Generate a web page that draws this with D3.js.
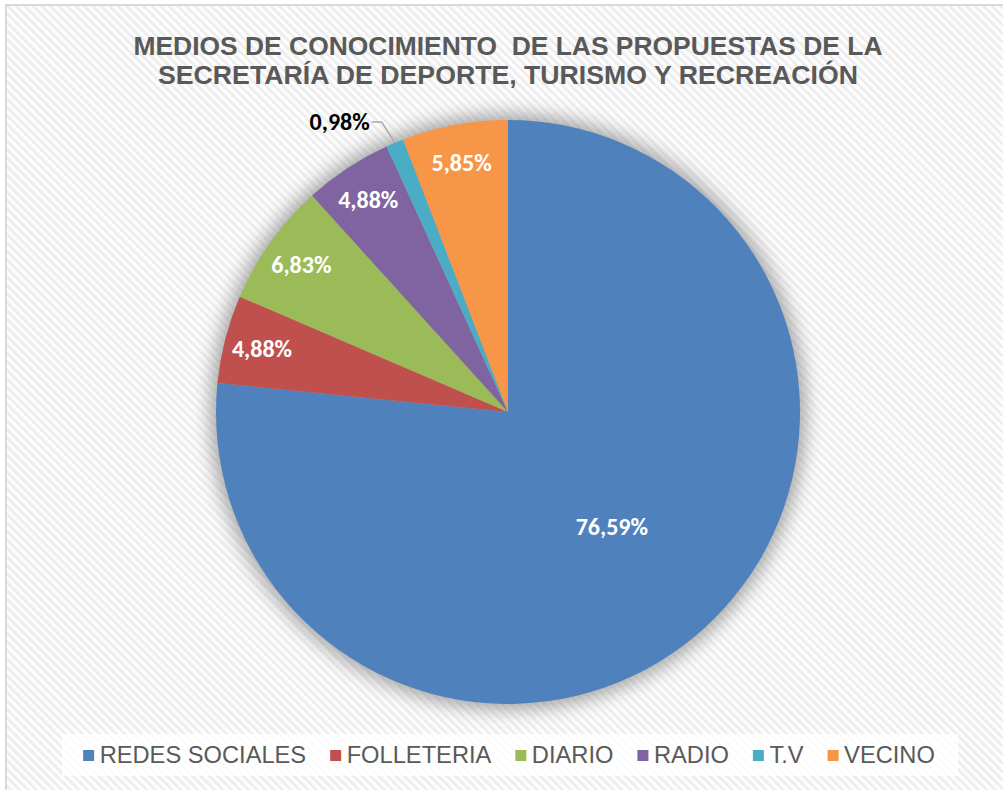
<!DOCTYPE html>
<html>
<head>
<meta charset="utf-8">
<script src="https://d3js.org/d3.v7.min.js"></script>
<style>
  body { margin: 0; background: #fff; }
  svg { display: block; }
</style>
</head>
<body>
<script>
/* chart data */
var titleLines = ["MEDIOS DE CONOCIMIENTO  DE LAS PROPUESTAS DE LA", "SECRETARÍA DE DEPORTE, TURISMO Y RECREACIÓN"];
var categories = ["REDES SOCIALES", "FOLLETERIA", "DIARIO", "RADIO", "T.V", "VECINO"];
var values = [76.59, 4.88, 6.83, 4.88, 0.98, 5.85];
var colors = ["#4F81BD", "#C0504D", "#9BBB59", "#8064A2", "#4BACC6", "#F79646"];

var width = 1003, height = 790;
var cx = 508, cy = 412, radius = 292;
var narrow = "'Liberation Sans Narrow', 'Arial Narrow', 'Liberation Sans', Arial, sans-serif";
var labelFont = "Carlito, Calibri, Lato, 'Open Sans', sans-serif";

var svg = d3.select("body").append("svg")
  .attr("width", width).attr("height", height);

var defs = svg.append("defs");
var pat = defs.append("pattern")
  .attr("id", "hatch").attr("patternUnits", "userSpaceOnUse")
  .attr("width", 6).attr("height", 6)
  .attr("patternTransform", "rotate(-45)");
pat.append("rect").attr("width", 6).attr("height", 6).attr("fill", "#fdfdfd");
pat.append("rect").attr("width", 2.5).attr("height", 6).attr("fill", "#ececec");

var glow = defs.append("filter").attr("id", "glow")
  .attr("x", "-20%").attr("y", "-20%").attr("width", "140%").attr("height", "140%");
glow.append("feGaussianBlur").attr("stdDeviation", 9);

/* background + frame */
svg.append("rect").attr("width", width).attr("height", height).attr("fill", "#fff");
svg.append("rect").attr("x", 6).attr("y", 5).attr("width", width).attr("height", height)
  .attr("fill", "url(#hatch)").attr("stroke", "#d9d9d9").attr("stroke-width", 2);

/* title */
var lineLen = [749, 700];
svg.append("text")
  .attr("text-anchor", "middle")
  .style("white-space", "pre")
  .style("font-family", narrow).style("font-weight", "bold")
  .style("font-size", "26px").attr("fill", "#595959")
  .selectAll("tspan").data(titleLines).enter().append("tspan")
  .attr("x", cx).attr("y", function(d, i){ return 55 + i * 29; })
  .attr("textLength", function(d, i){ return lineLen[i]; })
  .attr("lengthAdjust", "spacingAndGlyphs")
  .text(function(d){ return d; });

/* pie */
var pie = d3.pie().sort(null).value(function(d){ return d.v; });
var data = categories.map(function(c, i){ return {name: c, v: values[i], color: colors[i]}; });
var arcs = pie(data);
var arc = d3.arc().innerRadius(0).outerRadius(radius);

var g = svg.append("g").attr("transform", "translate(" + cx + "," + cy + ")");

g.append("circle").attr("r", radius + 6).attr("fill", "#8a8a8a")
  .attr("opacity", 0.75).attr("filter", "url(#glow)");

g.selectAll("path.slice").data(arcs).enter().append("path")
  .attr("class", "slice")
  .attr("d", arc)
  .attr("fill", function(d){ return d.data.color; });

function fmt(v){ return v.toFixed(2).replace(".", ",") + "%"; }

/* labels */
arcs.forEach(function(d){
  var mid = (d.startAngle + d.endAngle) / 2;
  if (d.data.v < 2) {
    // outside label with leader line
    var ex = Math.sin(mid) * radius, ey = -Math.cos(mid) * radius;
    var bx = ex - 13, by = -290;
    g.append("polyline")
      .attr("points", [[ex, ey], [bx, by], [bx - 10, by]].map(function(p){ return p.join(","); }).join(" "))
      .attr("fill", "none").attr("stroke", "#a6a6a6").attr("stroke-width", 1.3);
    g.append("text")
      .attr("x", bx - 12).attr("y", by + 8)
      .attr("text-anchor", "end")
      .style("font-family", labelFont).style("font-weight", "bold").style("font-size", "24px")
      .attr("fill", "#000").text(fmt(d.data.v));
    return;
  }
  var r = d.data.v > 50 ? radius * 0.53 : radius * 0.87;
  g.append("text")
    .attr("x", Math.sin(mid) * r).attr("y", -Math.cos(mid) * r)
    .attr("dy", "0.35em").attr("text-anchor", "middle")
    .style("font-family", labelFont).style("font-weight", "bold").style("font-size", "24px")
    .attr("fill", "#fff").text(fmt(d.data.v));
});

/* legend */
svg.append("rect").attr("x", 62).attr("y", 734).attr("width", 896).attr("height", 42)
  .attr("fill", "#fff").attr("opacity", 0.8);
var lg = svg.append("g");
var items = lg.selectAll("g").data(data).enter().append("g");
items.append("rect").attr("width", 11).attr("height", 11).attr("y", -13)
  .attr("fill", function(d){ return d.color; });
var sx = 1.03;
items.append("text")
  .attr("transform", "translate(16.5,0) scale(" + sx + ",1)")
  .style("font-family", narrow).style("font-size", "23px").attr("fill", "#595959")
  .text(function(d){ return d.name; });
var xpos = 0;
var gap = 24;
items.each(function(){
  var w = 16.5 + d3.select(this).select("text").node().getComputedTextLength() * sx;
  d3.select(this).attr("transform", "translate(" + xpos + ",0)");
  xpos += w + gap;
});
var total = xpos - gap;
lg.attr("transform", "translate(" + (509 - total / 2) + ",763)");
</script>
</body>
</html>
